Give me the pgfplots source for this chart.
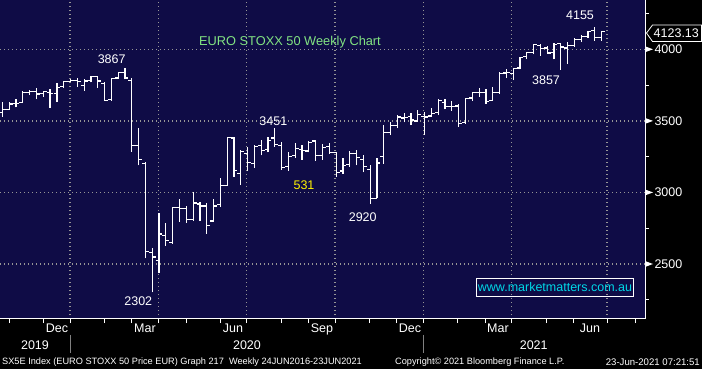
\documentclass[border=0pt]{standalone}
\usepackage{fontspec}
\setmainfont{Liberation Sans}
\usepackage{pgfplots}
\pgfplotsset{compat=1.18}
\usepackage{pgfplotstable}
\definecolor{navybg}{RGB}{15,12,70}
\definecolor{gridgray}{RGB}{150,150,150}
\definecolor{titlegreen}{RGB}{130,228,130}
\definecolor{urlcyan}{RGB}{0,215,230}
\pgfdeclareplotmark{otick}{\pgfpathmoveto{\pgfpoint{-3.4bp}{0pt}}\pgfpathlineto{\pgfpoint{0pt}{0pt}}\pgfusepathqstroke}
\pgfdeclareplotmark{ctick}{\pgfpathmoveto{\pgfpoint{0pt}{0pt}}\pgfpathlineto{\pgfpoint{3.4bp}{0pt}}\pgfusepathqstroke}
\newcommand\fs[1]{\fontsize{#1}{#1}\selectfont}
% weekly OHLC, k = weeks from week ending 21 Feb 2020
\pgfplotstableread{
k O H L C
-18 3560 3635 3530 3579
-17 3580 3630 3575 3619
-16 3620 3650 3595 3623
-15 3630 3710 3625 3699
-14 3700 3718 3680 3704
-13 3705 3728 3650 3688
-12 3690 3712 3670 3703
-11 3700 3720 3592 3690
-10 3690 3764 3631 3731
-9 3740 3782 3729 3776
-8 3775 3791 3770 3782
-7 3780 3803 3740 3773
-6 3750 3791 3712 3779
-5 3780 3815 3770 3808
-4 3810 3812 3733 3779
-3 3760 3770 3640 3641
-2 3650 3803 3640 3798
-1 3800 3845 3795 3840
0 3840 3867 3790 3800
1 3780 3800 3285 3329
2 3330 3449 3190 3232
3 3200 3210 2540 2586
4 2580 2610 2302 2549
5 2523 2855 2435 2710
6 2700 2790 2628 2663
7 2650 2900 2640 2893
8 2893 2951 2795 2888
9 2890 2907 2790 2809
10 2810 3000 2800 2927
11 2920 2930 2800 2905
12 2905 2924 2713 2770
13 2800 2951 2795 2906
14 2918 3098 2900 3050
15 3050 3390 3045 3384
16 3380 3390 3110 3153
17 3130 3300 3052 3289
18 3270 3320 3152 3208
19 3200 3330 3170 3320
20 3330 3370 3260 3296
21 3300 3390 3280 3365
22 3380 3451 3320 3338
23 3330 3350 3160 3174
24 3180 3280 3150 3253
25 3260 3345 3240 3308
26 3300 3330 3230 3296
27 3290 3360 3280 3349
28 3360 3370 3220 3260
29 3260 3340 3230 3315
30 3320 3345 3270 3282
31 3280 3285 3110 3137
32 3150 3240 3130 3190
33 3195 3290 3180 3273
34 3270 3300 3190 3245
35 3230 3260 3140 3180
36 3160 3190 2920 2958
37 2960 3240 2960 3206
38 3250 3470 3200 3420
39 3420 3490 3400 3467
40 3470 3540 3450 3527
41 3520 3555 3490 3525
42 3530 3555 3470 3507
43 3500 3575 3495 3545
44 3530 3560 3402 3527
45 3535 3588 3530 3553
46 3560 3655 3540 3645
47 3630 3655 3580 3600
48 3600 3640 3570 3602
49 3605 3620 3460 3481
50 3490 3660 3480 3656
51 3660 3705 3640 3697
52 3700 3730 3670 3701
53 3700 3720 3620 3636
54 3640 3740 3640 3700
55 3700 3845 3690 3833
56 3835 3860 3800 3837
57 3830 3870 3786 3867
58 3870 3946 3860 3946
59 3950 3985 3930 3978
60 3980 4035 3965 4032
61 4030 4040 3955 4007
62 4010 4025 3970 3975
63 3980 4045 3930 4035
64 4040 4045 3857 4017
65 4010 4055 3900 4026
66 4030 4080 4020 4071
67 4070 4100 4050 4090
68 4090 4130 4080 4127
69 4130 4155 4060 4083
70 4085 4130 4060 4123
}\ohlc
\begin{document}
\begin{tikzpicture}
\useasboundingbox (0,0) rectangle (702bp,369bp);
\fill[black] (0,0) rectangle (702bp,369bp);
\begin{axis}[
  at={(0,50bp)}, anchor=south west,
  scale only axis, width=645bp, height=319bp,
  xmin=0, xmax=645, ymin=2115.5, ymax=4345.3,
  axis background/.style={fill=navybg},
  axis x line*=bottom, axis y line*=right,
  axis line style={white, line width=1bp, -},
  tick align=outside,
  major tick length=4bp, minor tick length=4bp,
  tick style={white, line width=1bp},
  xtick={70,158.7,246.7,335,423.3,511.7,607},
  xticklabels={},
  minor xtick={9.3,43.3,104.3,131,186.7,220,281.7,308.3,369.3,396.7,457.7,485,546,573.3,635},
  extra x ticks={57,145,233,322,410,498,590},
  extra x tick labels={Dec,Mar,Jun,Sep,Dec,Mar,Jun},
  extra x tick style={major tick length=0pt, grid=none},
  ytick={2500,3000,3500,4000},
  yticklabels={2500,3000,3500,4000},
  minor ytick={2250,2750,3250,3750,4250},
  ytick pos=right, yticklabel pos=right,
  ticklabel style={white, font=\fs{12.5bp}},
  xticklabel style={yshift=-1bp},
  yticklabel style={xshift=2bp},
  grid=major,
  major grid style={gridgray, dash pattern=on 1.4bp off 2.6bp, line width=1.4bp},
  clip mode=individual,
]
\addplot[white, line width=1.2bp, quiver={u=0, v=\thisrow{H}-\thisrow{L}}]
  table[x expr={125+6.81*\thisrow{k}}, y=L] {\ohlc};
\addplot[white, line width=1.2bp, only marks, mark=otick]
  table[x expr={125+6.81*\thisrow{k}}, y=O] {\ohlc};
\addplot[white, line width=1.2bp, only marks, mark=ctick]
  table[x expr={125+6.81*\thisrow{k}}, y=C] {\ohlc};
\end{axis}
% y tick pointers
\foreach \yy in {105.0,176.56,248.1,319.7}{
  \fill[white] (646bp,\yy bp+2.6bp) -- (653bp,\yy bp) -- (646bp,\yy bp-2.6bp) -- cycle;
}
% last price tag
\draw[white, fill=black, line width=0.8bp] (646.5bp,336bp) -- (652.5bp,344bp) -- (701.5bp,344bp) -- (701.5bp,327.5bp) -- (652.5bp,327.5bp) -- cycle;
\node[white, font=\fs{12.5bp}, anchor=west, inner sep=0pt] at (653.5bp,335.8bp) {4123.13};
% title and annotations
\node[titlegreen, font=\fs{12.8bp}] at (290bp,327.3bp) {EURO STOXX 50 Weekly Chart};
\node[white, font=\fs{12.5bp}] at (111.7bp,310bp) {3867};
\node[white, font=\fs{12.5bp}] at (273.3bp,248.3bp) {3451};
\node[yellow, font=\fs{12.5bp}] at (304bp,184bp) {531};
\node[white, font=\fs{12.5bp}] at (362.7bp,152.3bp) {2920};
\node[white, font=\fs{12.5bp}] at (138.3bp,68.3bp) {2302};
\node[white, font=\fs{12.5bp}] at (580bp,353.3bp) {4155};
\node[white, font=\fs{12.5bp}] at (546bp,289bp) {3857};
% watermark
\draw[white, line width=0.8bp] (476.7bp,72.3bp) rectangle (633.3bp,90.7bp);
\node[urlcyan, font=\fs{12.5bp}] at (555bp,81.5bp) {www.marketmatters.com.au};
% years
\draw[gray, line width=0.8bp] (70bp,34bp) -- (70bp,16bp);
\draw[gray, line width=0.8bp] (423.3bp,34bp) -- (423.3bp,16bp);
\node[white, font=\fs{12.5bp}] at (35bp,24bp) {2019};
\node[white, font=\fs{12.5bp}] at (247bp,24bp) {2020};
\node[white, font=\fs{12.5bp}] at (533.7bp,24bp) {2021};
% footer
\node[white, font=\fs{9.2bp}, anchor=west, inner sep=0pt] at (2bp,7bp) {SX5E Index (EURO STOXX 50 Price EUR) Graph 217\ \ Weekly 24JUN2016-23JUN2021};
\node[white, font=\fs{9.2bp}, anchor=west, inner sep=0pt] at (395bp,7bp) {Copyright© 2021 Bloomberg Finance L.P.};
\node[white, font=\fs{9.6bp}, anchor=east, inner sep=0pt] at (700bp,7bp) {23-Jun-2021 07:21:51};
\end{tikzpicture}
\end{document}
